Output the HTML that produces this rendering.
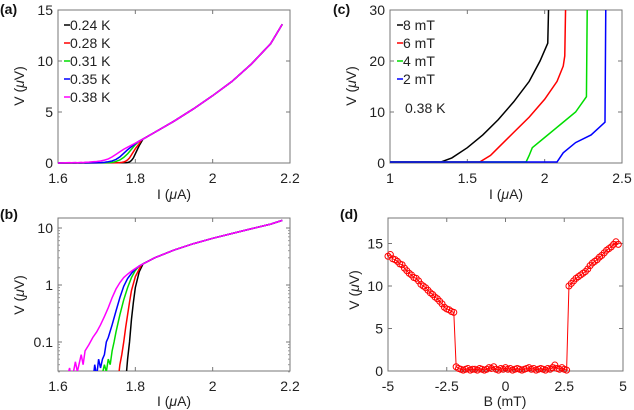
<!DOCTYPE html>
<html><head><meta charset="utf-8"><style>
body{margin:0;background:#fff;}
svg{display:block;font-family:"Liberation Sans",Arial,sans-serif;}
</style></head><body>
<svg id="fig" width="634" height="410" viewBox="0 0 634 410" xmlns="http://www.w3.org/2000/svg">
<defs>
<clipPath id="clipb"><rect x="58" y="218" width="232" height="153"/></clipPath>
<clipPath id="clipc"><rect x="390" y="10" width="232" height="153"/></clipPath>
</defs>
</svg>
<script>
// ---- data ----
const tempLabels=["0.24 K","0.28 K","0.31 K","0.35 K","0.38 K"];
const tempColors=["#000","#f00","#0d0","#00f","#f0f"];
const blackI=[1.6,1.775,1.78,1.785,1.79,1.795,1.80,1.81,1.82];
const blackV=[0.001,0.02,0.05,0.1,0.25,0.5,0.9,1.7,2.35];
const redI=[1.6,1.755,1.76,1.765,1.77,1.775,1.78,1.785,1.79,1.80,1.81,1.815];
const redV=[0.001,0.02,0.04,0.06,0.1,0.18,0.3,0.5,0.8,1.4,1.9,2.2];
const greenI=[1.6,1.71,1.72,1.725,1.73,1.735,1.74,1.745,1.75,1.76,1.77,1.78,1.79,1.80,1.81];
const greenV=[0.001,0.02,0.04,0.03,0.05,0.04,0.07,0.1,0.15,0.3,0.55,0.9,1.35,1.8,2.15];
const blueI=[1.6,1.69,1.695,1.70,1.705,1.71,1.715,1.72,1.725,1.73,1.74,1.75,1.76,1.77,1.78,1.79,1.80,1.81];
const blueV=[0.001,0.02,0.04,0.025,0.05,0.035,0.05,0.06,0.1,0.12,0.2,0.35,0.6,0.95,1.3,1.6,1.9,2.15];
const magI=[1.6,1.62,1.63,1.635,1.645,1.65,1.66,1.665,1.67,1.68,1.69,1.7,1.71,1.72,1.73,1.74,1.75,1.76,1.77,1.78,1.79,1.80,1.81];
const magV=[0.001,0.02,0.035,0.02,0.045,0.03,0.06,0.04,0.07,0.09,0.12,0.15,0.2,0.28,0.4,0.6,0.85,1.1,1.35,1.55,1.75,1.95,2.15];
const mainI=[1.82,1.85,1.9,1.95,2.0,2.05,2.1,2.15,2.18];
const mainV=[2.35,3.0,4.1,5.3,6.6,8.0,9.7,11.7,13.6];
const aXTicks=[1.6,1.8,2,2.2], aXLabels=["1.6","1.8","2","2.2"];
const aYTicks=[0,5,10,15];
const bYTicks=[0.1,1,10], bYLabels=["0.1","1","10"];

const fieldLabels=["8 mT","6 mT","4 mT","2 mT"];
const fieldColors=["#000","#f00","#0d0","#00f"];
const c8I=[1.0,1.33,1.4,1.5,1.6,1.7,1.8,1.9,1.97,2.02,2.025];
const c8V=[0.2,0.2,1,3,5.5,8.5,12,16,20,23.5,30];
const c6I=[1.0,1.58,1.65,1.7,1.8,1.9,2.0,2.08,2.12,2.13,2.135];
const c6V=[0.2,0.2,1.5,3,6,9,12.5,16,19,21,30];
const c4I=[1.0,1.88,1.9,1.92,2.0,2.1,2.2,2.27,2.275];
const c4V=[0.2,0.2,1.5,3,5,7.5,10,13,30];
const c2I=[1.0,2.08,2.12,2.2,2.3,2.39,2.395];
const c2V=[0.2,0.2,2,4,5.5,8,30];
const cXTicks=[1,1.5,2,2.5], cXLabels=["1","1.5","2","2.5"];
const cYTicks=[0,10,20,30];

const dB0=-5.0, dBstep=0.1;
const dV=[13.5,13.7,13.2,13.1,12.9,12.6,12.5,12.1,11.8,11.5,11.3,11.0,10.9,10.6,10.2,10.0,9.8,9.5,9.2,9.0,8.7,8.5,8.2,7.9,7.5,7.3,7.2,7.0,6.9,
0.5,0.3,0.2,0.1,0.2,0.3,0.1,0.2,0.2,0.1,0.3,0.2,0.1,0.2,0.4,0.3,0.5,0.2,0.1,0.3,0.2,0.4,0.2,0.3,0.1,0.2,0.3,0.2,0.1,0.2,0.3,0.4,0.2,0.3,0.1,0.2,0.3,0.2,0.1,0.3,0.2,0.4,0.7,0.3,0.2,0.4,0.2,0.1,
10.0,10.3,10.6,10.9,11.1,11.3,11.5,11.7,12.0,12.4,12.7,12.9,13.1,13.4,13.6,13.9,14.2,14.4,14.6,14.9,15.2,14.9];
const dXTicks=[-5,-2.5,0,2.5,5], dXLabels=["-5","-2.5","0","2.5","5"];
const dYTicks=[0,5,10,15];

// ---- helpers ----
const FS=14;
const svg=document.getElementById('fig');
const NS="http://www.w3.org/2000/svg";
function mk(tag,attrs,parent){const e=document.createElementNS(NS,tag);for(const k in attrs)e.setAttribute(k,attrs[k]);(parent||svg).appendChild(e);return e;}
function txt(x,y,s,anchor,size,parent){const t=mk('text',{x:x,y:y,'text-anchor':anchor||'middle','font-size':size||FS,fill:'#222'},parent);t.textContent=s;return t;}
function lin(d0,d1,p0,p1){return v=>p0+(v-d0)*(p1-p0)/(d1-d0);}
function logs(d0,d1,p0,p1){return v=>p0+(Math.log10(Math.max(v,1e-4))-Math.log10(d0))*(p1-p0)/(Math.log10(d1)-Math.log10(d0));}

function frame(g,L,T,R,B){
  mk('rect',{x:L,y:T,width:R-L,height:B-T,fill:'none',stroke:'#777','stroke-width':1},g);
}
function xTicks(g,sx,ticks,labels,T,B){
  ticks.forEach((v,i)=>{const x=sx(v);
    mk('line',{x1:x,y1:B,x2:x,y2:B-4,stroke:'#777'},g);
    mk('line',{x1:x,y1:T,x2:x,y2:T+4,stroke:'#777'},g);
    const t=txt(x,B+20,labels[i],'middle',FS,g);
    
    
  });
}
function yTicks(g,sy,ticks,labels,L,R){
  ticks.forEach((v,i)=>{const y=sy(v);
    mk('line',{x1:L,y1:y,x2:L+4,y2:y,stroke:'#777'},g);
    mk('line',{x1:R,y1:y,x2:R-4,y2:y,stroke:'#777'},g);
    const t=txt(L-5,y+5,labels[i],'end',FS,g);
    
    
  });
}
function axisLabels(g,cx,by,lx,cy,xlab,ylabHTML){
  const xl=mk('text',{x:cx,y:by,'text-anchor':'middle','font-size':FS,fill:'#222'},g);
  xl.innerHTML=xlab;
  
  
  const yl=mk('text',{x:lx,y:cy,'text-anchor':'middle','font-size':FS,fill:'#222',transform:`rotate(-90 ${lx} ${cy})`},g);
  yl.innerHTML=ylabHTML;
  
  
}
function panelLabel(x,y,s){const t=mk('text',{x:x,y:y,'font-size':14,'font-weight':'bold',fill:'#111'});t.textContent=s;
  
  }
function pathOf(xs,ys,sx,sy){return xs.map((v,i)=>(i?'L':'M')+sx(v).toFixed(2)+','+sy(ys[i]).toFixed(2)).join('');}

const tempI=[blackI,redI,greenI,blueI,magI];
const tempV=[blackV,redV,greenV,blueV,magV];

// ---- panel a ----
{
const g=mk('g',{});


const L=58,R=290,T=10,B=163;
const sx=lin(1.6,2.2,L,R), sy=lin(0,15,B,T);
frame(g,L,T,R,B);
xTicks(g,sx,aXTicks,aXLabels,T,B);
yTicks(g,sy,aYTicks,aYTicks.map(String),L,R);
tempI.forEach((xs,k)=>{
  const p=mk('path',{d:pathOf(xs.concat(mainI),tempV[k].concat(mainV),sx,sy),fill:'none',stroke:tempColors[k],'stroke-width':1.5},g);
  
  
});
tempLabels.forEach((s,k)=>{const y=25+k*18;
  const lg=mk('g',{},g);
  
  
  mk('line',{x1:64,y1:y,x2:70,y2:y,stroke:tempColors[k],'stroke-width':1.5},lg);
  txt(70,y+5,s,'start',FS,lg);
});
axisLabels(g,174,199,24,86,'I (<tspan font-style="italic">μ</tspan>A)','V (<tspan font-style="italic">μ</tspan>V)');
panelLabel(0,14,'(a)');
}
// ---- panel b ----
{
const g=mk('g',{});


const L=58,R=290,T=218,B=371;
const sx=lin(1.6,2.2,L,R), sy=logs(0.1,10,342,228);
frame(g,L,T,R,B);
xTicks(g,sx,aXTicks,aXLabels,T,B);
yTicks(g,sy,bYTicks,bYLabels,L,R);
[0.03,0.04,0.05,0.06,0.07,0.08,0.09,0.2,0.3,0.4,0.5,0.6,0.7,0.8,0.9,2,3,4,5,6,7,8,9].forEach(v=>{const y=sy(v);
  mk('line',{x1:L,y1:y,x2:L+2,y2:y,stroke:'#999'},g);mk('line',{x1:R,y1:y,x2:R-2,y2:y,stroke:'#999'},g);});
const cg=mk('g',{'clip-path':'url(#clipb)'},g);
tempI.forEach((xs,k)=>{
  const p=mk('path',{d:pathOf(xs.slice(1).concat(mainI),tempV[k].slice(1).concat(mainV),sx,sy),fill:'none',stroke:tempColors[k],'stroke-width':1.5},cg);
  
  
});
axisLabels(g,174,406,24,295,'I (<tspan font-style="italic">μ</tspan>A)','V (<tspan font-style="italic">μ</tspan>V)');
panelLabel(0,219,'(b)');
}
// ---- panel c ----
{
const g=mk('g',{});


const L=390,R=622,T=10,B=163;
const sx=lin(1,2.5,L,R), sy=lin(0,30,B,T);
frame(g,L,T,R,B);
xTicks(g,sx,cXTicks,cXLabels,T,B);
yTicks(g,sy,cYTicks,cYTicks.map(String),L,R);
const cg=mk('g',{'clip-path':'url(#clipc)'},g);
[[c8I,c8V],[c6I,c6V],[c4I,c4V],[c2I,c2V]].forEach((s,k)=>{
  const p=mk('path',{d:pathOf(s[0],s[1],sx,sy),fill:'none',stroke:fieldColors[k],'stroke-width':1.5},cg);
  
  
});
fieldLabels.forEach((s,k)=>{const y=25+k*18;
  const lg=mk('g',{},g);
  
  
  mk('line',{x1:397,y1:y,x2:403,y2:y,stroke:fieldColors[k],'stroke-width':1.5},lg);
  txt(403,y+5,s,'start',FS,lg);
});
const t=txt(405,113,'0.38 K','start',FS,g);


axisLabels(g,506,199,356,86,'I (<tspan font-style="italic">μ</tspan>A)','V (<tspan font-style="italic">μ</tspan>V)');
panelLabel(333,14,'(c)');
}
// ---- panel d ----
{
const g=mk('g',{});


const L=388,R=623,T=218,B=371;
const sx=lin(-5,5,L,R), sy=lin(0,18,B,T);
frame(g,L,T,R,B);
xTicks(g,sx,dXTicks,dXLabels,T,B);
yTicks(g,sy,dYTicks,dYTicks.map(String),L,R);
const dB=dV.map((v,i)=>dB0+i*dBstep);
const p=mk('path',{d:pathOf(dB,dV,sx,sy),fill:'none',stroke:'#f00','stroke-width':1},g);


dV.forEach((v,i)=>{
  const c=mk('circle',{cx:sx(dB[i]),cy:sy(v),r:3,fill:'none',stroke:'#f00','stroke-width':1},g);
  
  
});
axisLabels(g,505,406,359,290,'B (mT)','V (<tspan font-style="italic">μ</tspan>V)');
panelLabel(340,219,'(d)');
}
</script>
</body></html>
